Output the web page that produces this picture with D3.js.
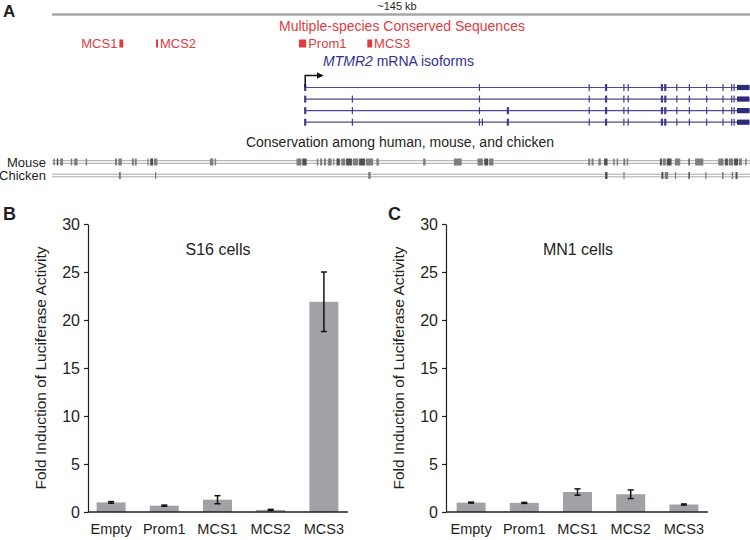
<!DOCTYPE html>
<html>
<head>
<meta charset="utf-8">
<script src="https://cdn.jsdelivr.net/npm/d3@7"></script>
<style>
  body { margin: 0; background: #fff; }
  svg { display: block; font-family: "Liberation Sans", Arial, sans-serif; }
</style>
</head>
<body>
<svg id="fig" width="750" height="540"></svg>
<script>
// luciferase data (panels B and C)
const categories = ["Empty", "Prom1", "MCS1", "MCS2", "MCS3"];
const s16Values = [1.0, 0.66, 1.28, 0.22, 21.9];
const s16Errors = [0.08, 0.06, 0.42, 0.05, 3.1];
const mn1Values = [0.98, 0.95, 2.08, 1.85, 0.78];
const mn1Errors = [0.05, 0.05, 0.33, 0.45, 0.06];
const yTicks = [0, 5, 10, 15, 20, 25, 30];

// genome region (panel A), positions in kb
const regionKb = 145;
const mcsNames = ["MCS1", "MCS2", "Prom1", "MCS3"];
const mcsStart = [14.0, 21.6, 51.3, 65.5];
const mcsEnd = [14.8, 22.0, 52.8, 66.5];

const txStart = 52.6;
const txEnd = 144.9;
const utrStart = 142.3;
const sharedExons = [111.6, 115.1, 118.8, 119.7, 126.7, 127.4, 129.8, 132.4, 136.0, 139.4, 141.2, 141.7];
const isoformExons = [
  [52.6, 88.8],
  [52.6, 62.4, 88.8],
  [52.6, 62.4, 88.8, 94.7],
  [52.6, 62.4, 88.8, 89.4, 94.7]
];
const wideExons = [52.6, 94.7, 115.1, 126.7, 127.4];

// conserved blocks [start, end, dark?]
const mouseBlocks = [
  [0.3, 0.6], [1.0, 1.3, 1], [1.7, 2.3], [3.9, 4.2], [4.6, 5.3], [7.0, 7.3],
  [13.1, 13.5], [13.8, 14.5], [16.6, 17.0], [17.2, 17.6], [19.8, 20.0], [20.4, 21.0, 1], [21.2, 21.9],
  [32.8, 33.5], [33.8, 34.1], [50.8, 51.8], [52.0, 52.9, 1],
  [55.0, 55.3], [55.7, 56.1], [56.5, 56.9], [57.3, 58.1], [58.4, 58.6],
  [59.1, 59.8, 1], [60.1, 60.9], [61.1, 62.3, 1], [62.5, 63.6], [63.8, 65.0, 1], [65.2, 66.7],
  [67.4, 67.9], [77.1, 77.6], [83.5, 85.1], [88.4, 89.5], [89.8, 90.6, 1], [90.8, 91.7],
  [111.4, 111.8], [112.1, 112.5], [113.5, 114.0], [114.7, 115.4, 1], [116.6, 116.9], [117.3, 117.6],
  [118.7, 119.1], [119.4, 119.7], [126.3, 126.7, 1], [126.9, 127.5], [127.7, 128.7, 1],
  [129.4, 130.5], [132.2, 132.5, 1], [133.6, 135.3], [138.4, 139.5],
  [139.8, 140.4, 1], [140.6, 141.5], [141.7, 142.5, 1], [142.7, 143.3], [144.0, 144.3]
];
const chickenBlocks = [
  [13.9, 14.3], [21.4, 21.6], [65.7, 66.2], [114.9, 115.4, 1], [118.7, 118.9],
  [126.6, 127.0, 1], [127.3, 128.0], [129.4, 129.6], [132.2, 132.5, 1], [135.7, 135.9],
  [139.2, 139.5], [141.2, 141.5], [142.0, 142.4, 1]
];

const svg = d3.select("#fig");
const ink = "#231f20";
const red = "#e23b3f";
const navy = "#2e3192";

const xGen = d3.scaleLinear().domain([0, regionKb]).range([52, 750]);

// ---- panel A ----
svg.append("text").attr("x", 3).attr("y", 17)
  .attr("font-size", 17).attr("font-weight", "bold").attr("fill", ink).text("A");

svg.append("line")
  .attr("x1", xGen(0)).attr("x2", xGen(regionKb))
  .attr("y1", 14.5).attr("y2", 14.5)
  .attr("stroke", "#a6a6a6").attr("stroke-width", 2.5);
svg.append("text").attr("x", 397).attr("y", 10)
  .attr("text-anchor", "middle").attr("font-size", 11).attr("fill", ink)
  .text("~" + regionKb + " kb");

svg.append("text").attr("x", 402).attr("y", 31)
  .attr("text-anchor", "middle").attr("font-size", 14).attr("fill", red)
  .text("Multiple-species Conserved Sequences");

const mcs = svg.append("g");
mcsNames.forEach(function(name, i) {
  let x0 = xGen(mcsStart[i]), x1 = xGen(mcsEnd[i]);
  mcs.append("rect")
    .attr("x", x0).attr("y", 39.5)
    .attr("width", Math.max(2, x1 - x0)).attr("height", 8)
    .attr("fill", red);
  let left = i === 0;
  mcs.append("text")
    .attr("x", left ? x0 - 2 : Math.max(x1, x0 + 2) + 2)
    .attr("y", 48)
    .attr("text-anchor", left ? "end" : "start")
    .attr("font-size", 13).attr("fill", red)
    .text(name);
});

// isoforms
const iso = svg.append("g");
const isoText = svg.append("text").attr("x", 323).attr("y", 66)
  .attr("font-size", 14).attr("fill", navy);
isoText.append("tspan").attr("font-style", "italic").text("MTMR2");
isoText.append("tspan").text(" mRNA isoforms");

const rowY = d3.scaleLinear().domain([0, 3]).range([87.5, 122.2]);
isoformExons.forEach(function(ex, r) {
  let y = rowY(r);
  iso.append("line")
    .attr("x1", xGen(txStart)).attr("x2", xGen(txEnd))
    .attr("y1", y).attr("y2", y)
    .attr("stroke", "#4b4b94").attr("stroke-width", 1.2);
  iso.selectAll(null)
    .data(ex.concat(sharedExons))
    .enter().append("rect")
      .attr("x", d => xGen(d) - (wideExons.includes(d) ? 1.1 : 0.6))
      .attr("y", y - 3.5)
      .attr("width", d => wideExons.includes(d) ? 2.2 : 1.2)
      .attr("height", 7)
      .attr("fill", "#3d3d8c");
  iso.append("rect")
    .attr("x", xGen(utrStart)).attr("y", y - 2.6)
    .attr("width", xGen(txEnd) - xGen(utrStart)).attr("height", 5.2)
    .attr("fill", "#2b2b7a");
});

// TSS arrow
svg.append("defs").append("marker")
  .attr("id", "arr").attr("viewBox", "0 0 10 10")
  .attr("refX", 8).attr("refY", 5)
  .attr("markerWidth", 4.5).attr("markerHeight", 4.5)
  .attr("orient", "auto")
  .append("path").attr("d", "M0,0L10,5L0,10z").attr("fill", "#111");
svg.append("path")
  .attr("d", "M" + xGen(txStart) + "," + rowY(0) + "V75.5H" + (xGen(txStart) + 17))
  .attr("fill", "none").attr("stroke", "#111").attr("stroke-width", 1.5)
  .attr("marker-end", "url(#arr)");

// conservation
svg.append("text").attr("x", 400).attr("y", 147)
  .attr("text-anchor", "middle").attr("font-size", 14).attr("fill", ink)
  .text("Conservation among human, mouse, and chicken");

const tracks = [
  { name: "Mouse", y: 162, blocks: mouseBlocks },
  { name: "Chicken", y: 175.5, blocks: chickenBlocks }
];
tracks.forEach(function(t) {
  let g = svg.append("g");
  g.append("text").attr("x", 46).attr("y", t.y + 4.5)
    .attr("text-anchor", "end").attr("font-size", 13).attr("fill", ink)
    .text(t.name);
  [-1.3, 1.3].forEach(function(off) {
    g.append("line")
      .attr("x1", xGen(0)).attr("x2", xGen(regionKb))
      .attr("y1", t.y + off).attr("y2", t.y + off)
      .attr("stroke", "#9d9d9d").attr("stroke-width", 0.9);
  });
  g.selectAll("rect")
    .data(t.blocks)
    .enter().append("rect")
      .attr("x", d => xGen(d[0]))
      .attr("y", t.y - 3.5)
      .attr("width", d => Math.max(1.2, xGen(d[1]) - xGen(d[0])))
      .attr("height", 7)
      .attr("fill", d => d[2] ? "#505050" : "#7d7d7d");
});

// ---- bar panels ----
function barPanel(label, title, values, errors, axisX, axisEnd, bandRange, titleX) {
  let g = svg.append("g");
  let y = d3.scaleLinear().domain([0, 30]).range([512, 224]);
  let x = d3.scaleBand().domain(categories).range(bandRange)
    .paddingInner(0.455).paddingOuter(0.2275);

  g.append("text").attr("x", axisX - (label === "B" ? 85 : 58)).attr("y", 220)
    .attr("font-size", 18).attr("font-weight", "bold").attr("fill", ink).text(label);

  g.selectAll(".bar")
    .data(values)
    .enter().append("rect")
      .attr("class", "bar")
      .attr("x", (d, i) => x(categories[i]))
      .attr("y", d => y(d))
      .attr("width", x.bandwidth())
      .attr("height", d => y(0) - y(d))
      .attr("fill", "#a1a2a5");

  let eb = g.append("g").attr("stroke", "#111").attr("stroke-width", 1.5);
  values.forEach(function(v, i) {
    let cx = x(categories[i]) + x.bandwidth() / 2;
    eb.append("line").attr("x1", cx).attr("x2", cx)
      .attr("y1", y(v - errors[i])).attr("y2", y(v + errors[i]));
    [v - errors[i], v + errors[i]].forEach(function(e) {
      eb.append("line").attr("x1", cx - 3).attr("x2", cx + 3)
        .attr("y1", y(e)).attr("y2", y(e));
    });
  });

  let ya = g.append("g")
    .attr("transform", "translate(" + axisX + ",0)")
    .call(d3.axisLeft(y).tickValues(yTicks).tickSize(4).tickSizeOuter(0).tickPadding(4));
  ya.selectAll("path, line").attr("stroke", ink).attr("stroke-width", 1.2);
  ya.selectAll("text").attr("font-size", 16).attr("fill", ink)
    .attr("font-family", "Liberation Sans, Arial, sans-serif");

  g.append("line")
    .attr("x1", axisX).attr("x2", axisEnd)
    .attr("y1", y(0)).attr("y2", y(0))
    .attr("stroke", ink).attr("stroke-width", 1.4);

  let xa = g.append("g")
    .attr("transform", "translate(0," + y(0) + ")")
    .call(d3.axisBottom(x).tickSize(0).tickPadding(12));
  xa.select(".domain").remove();
  xa.selectAll("text").attr("font-size", 14.5).attr("fill", ink)
    .attr("font-family", "Liberation Sans, Arial, sans-serif");

  g.append("text")
    .attr("transform", "translate(" + (axisX - 42) + ",368) rotate(-90)")
    .attr("text-anchor", "middle").attr("font-size", 15.5).attr("fill", ink)
    .text("Fold Induction of Luciferase Activity");

  g.append("text").attr("x", titleX).attr("y", 255)
    .attr("text-anchor", "middle").attr("font-size", 16).attr("fill", ink)
    .text(title);
}

barPanel("B", "S16 cells", s16Values, s16Errors, 88, 348, [84.5, 350.5], 218);
barPanel("C", "MN1 cells", mn1Values, mn1Errors, 446, 708, [444.5, 710.5], 578);
</script>
</body>
</html>
